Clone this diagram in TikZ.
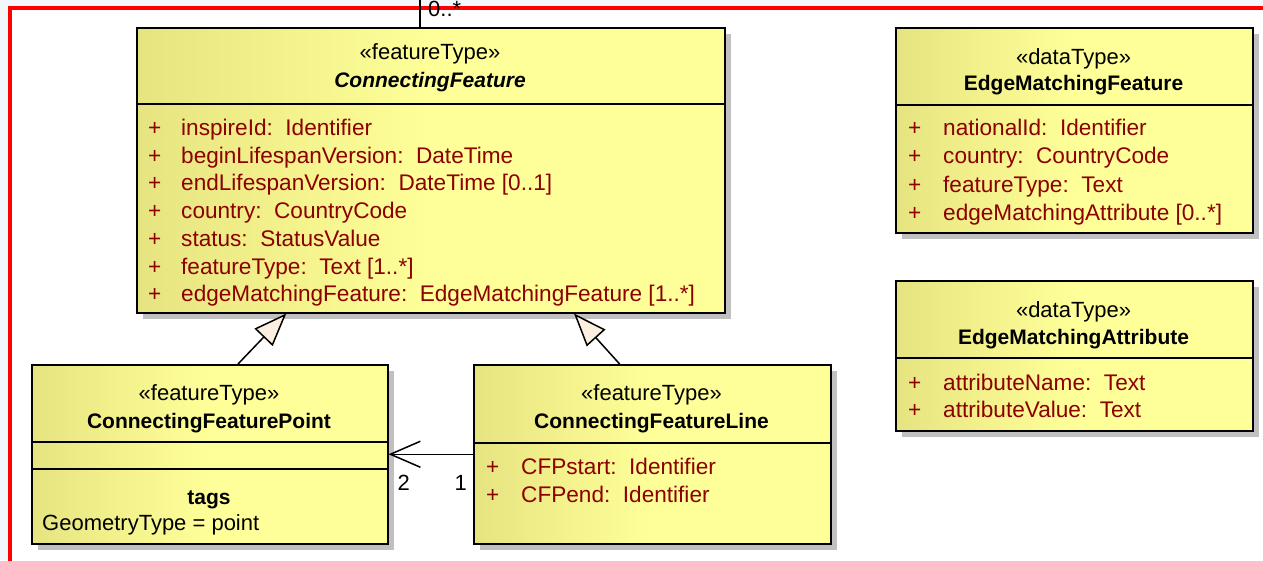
\documentclass[tikz,border=0pt]{standalone}
\usepackage{fontspec}
\setmainfont{Liberation Sans}
\usetikzlibrary{arrows.meta,shadows,calc}

\definecolor{boxleft}{RGB}{230,228,128}
\definecolor{boxright}{RGB}{255,255,153}
\definecolor{attrred}{RGB}{140,0,0}
\definecolor{shadowgray}{RGB}{192,192,192}
\definecolor{genfill}{RGB}{251,240,224}
\definecolor{outside}{RGB}{243,246,251}

\tikzset{
    classbox/.style={draw, line width=1.5pt, anchor=north west, inner sep=0pt,
        left color=boxleft, right color=boxright, middle color=boxright,
        drop shadow={shadow xshift=6pt, shadow yshift=-6pt, fill=shadowgray, opacity=1}},
    txt/.style={inner sep=0pt, text height=15pt, text depth=4pt, font=\fontsize{22}{26}\selectfont},
    stereo/.style={txt},
    classname/.style={txt, font=\fontsize{21}{25}\selectfont\bfseries},
    attr/.style={txt, anchor=west, text=attrred, font=\fontsize{22.6}{26}\selectfont},
    sepline/.style={line width=1.5pt},
    generalize/.style={line width=1.5pt, -{Triangle[length=33pt, width=25pt, fill=genfill]}},
    navigable/.style={line width=1.5pt, -{Straight Barb[length=30pt, width=26pt]}},
}

\begin{document}
\begin{tikzpicture}[x=1pt, y=-1pt]
    \useasboundingbox (0,0) rectangle (1263,560);
    \clip (0,0) rectangle (1263,560);
    %package frame
    \fill[outside] (0,0) rectangle (1263,560);
    \fill[white] (10,8) rectangle (1290,590);
    \draw[red, line width=3.5pt] (10,8) rectangle (1290,590);

    %ConnectingFeature
    \node[classbox, minimum width=588pt, minimum height=285pt] (cf) at (136,27) {};
    \node[stereo] (cfst) at (430,54) {«featureType»};
    \node[classname, font=\fontsize{21}{25}\selectfont\bfseries\itshape] (cfname) at (430,82) {ConnectingFeature};
    \draw[sepline] (cf.west |- 0,104) -- (cf.east |- 0,104);
    \foreach \a [count=\i from 0] in {{inspireId:~~Identifier}, {beginLifespanVersion:~~DateTime},
        {endLifespanVersion:~~DateTime [0..1]}, {country:~~CountryCode}, {status:~~StatusValue},
        {featureType:~~Text [1..*]}, {edgeMatchingFeature:~~EdgeMatchingFeature [1..*]}} {
        \node[attr] (cfp\i) at (148,{130+27.7*\i}) {+};
        \node[attr] (cfa\i) at (181,{130+27.7*\i}) {\a};
    }

    %ConnectingFeaturePoint
    \node[classbox, minimum width=356pt, minimum height=179pt] (pt) at (31,364) {};
    \node[stereo] (ptst) at (209,395) {«featureType»};
    \node[classname] (ptname) at (209,423) {ConnectingFeaturePoint};
    \draw[sepline] (pt.west |- 0,442) -- (pt.east |- 0,442);
    \draw[sepline] (pt.west |- 0,469) -- (pt.east |- 0,469);
    \node[classname] (pttags) at (209,499) {tags};
    \node[txt, anchor=west] (ptgeom) at (42,525) {GeometryType = point};

    %ConnectingFeatureLine
    \node[classbox, minimum width=357pt, minimum height=179pt] (ln) at (473,364) {};
    \node[stereo] (lnst) at (651.5,395) {«featureType»};
    \node[classname] (lnname) at (651.5,423) {ConnectingFeatureLine};
    \draw[sepline] (ln.west |- 0,443) -- (ln.east |- 0,443);
    \foreach \a [count=\i from 0] in {{CFPstart:~~Identifier}, {CFPend:~~Identifier}} {
        \node[attr] (lnp\i) at (486,{469+27.5*\i}) {+};
        \node[attr] (lna\i) at (521,{469+27.5*\i}) {\a};
    }

    %EdgeMatchingFeature
    \node[classbox, minimum width=357pt, minimum height=205pt] (emf) at (895,27) {};
    \node[stereo] (emfst) at (1073.5,59) {«dataType»};
    \node[classname] (emfname) at (1073.5,85) {EdgeMatchingFeature};
    \draw[sepline] (emf.west |- 0,105) -- (emf.east |- 0,105);
    \foreach \a [count=\i from 0] in {{nationalId:~~Identifier}, {country:~~CountryCode},
        {featureType:~~Text}, {edgeMatchingAttribute [0..*]}} {
        \node[attr] (emfp\i) at (908,{130+28.3*\i}) {+};
        \node[attr] (emfa\i) at (943,{130+28.3*\i}) {\a};
    }

    %EdgeMatchingAttribute
    \node[classbox, minimum width=357pt, minimum height=150pt] (ema) at (895,280) {};
    \node[stereo] (emast) at (1073.5,312) {«dataType»};
    \node[classname] (emaname) at (1073.5,339) {EdgeMatchingAttribute};
    \draw[sepline] (ema.west |- 0,358) -- (ema.east |- 0,358);
    \foreach \a [count=\i from 0] in {{attributeName:~~Text}, {attributeValue:~~Text}} {
        \node[attr] (emap\i) at (908,{385+27*\i}) {+};
        \node[attr] (emaa\i) at (943,{385+27*\i}) {\a};
    }

    %generalizations
    \draw[generalize] ($(pt.north west)!0.579!(pt.north east)$) -- ($(cf.south west)!0.255!(cf.south east)$);
    \draw[generalize] ($(ln.north west)!0.409!(ln.north east)$) -- ($(cf.south west)!0.743!(cf.south east)$);

    %association between line and point
    \draw[navigable] (ln.west) -- (pt.east);
    \node[txt, anchor=west] (mtwo) at ($(pt.east)+(9,31)$) {2};
    \node[txt, anchor=east] (mone) at ($(ln.west)+(-6,31)$) {1};

    %association leaving the frame
    \coordinate (up) at (420,-10);
    \draw[line width=1.5pt] (up |- cf.north) -- (up);
    \node[txt, anchor=base west] (mult) at ($(up |- cf.north)+(8,-11)$) {0..*};
\end{tikzpicture}
\end{document}
